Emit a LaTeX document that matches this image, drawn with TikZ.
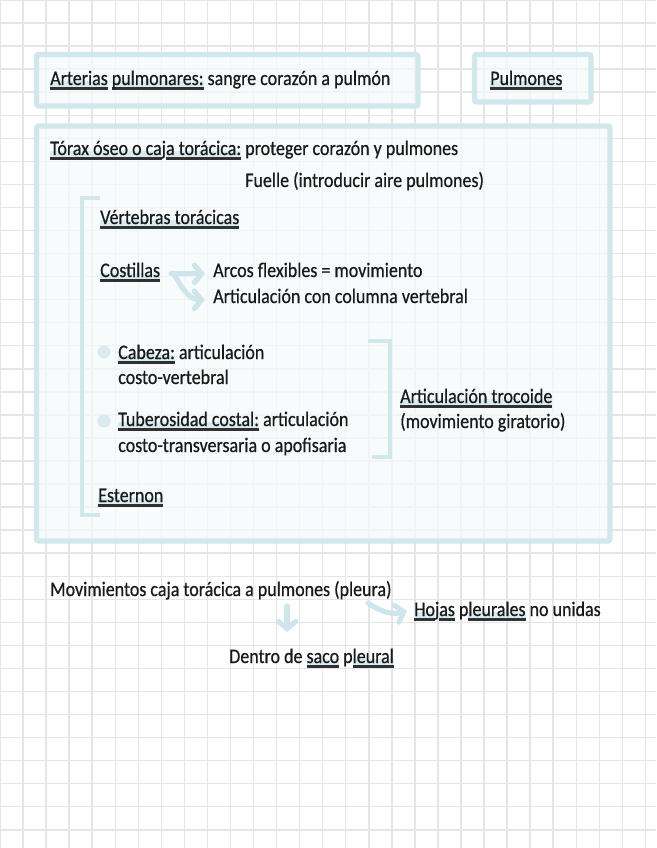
\documentclass[tikz,border=0pt]{standalone}
\usepackage{fontspec}
\setmainfont[FakeStretch=0.87,FakeBold=0.6]{Carlito}
\usetikzlibrary{arrows.meta}
\definecolor{ink}{HTML}{1A1A1A}
\definecolor{gridc}{HTML}{E3E6E6}
\definecolor{boxc}{HTML}{D0E7EC}
\definecolor{boxf}{HTML}{F5FAFC}
\definecolor{hlc}{HTML}{D8EBF0}
\definecolor{arrc}{HTML}{CDE5EB}
\newsavebox\ulbox
\newcommand\ulw[1]{\sbox\ulbox{#1}\leavevmode\rlap{\textcolor{hlc}{\rule[-1.5pt]{\wd\ulbox}{4.5pt}}}\rlap{\textcolor{ink!90}{\rule[-3.4pt]{\wd\ulbox}{2.1pt}}}\usebox\ulbox}
\begin{document}
\begin{tikzpicture}[x=0.75pt,y=-0.75pt,
  txt/.style={anchor=base west, inner sep=0pt, text=ink, font=\fontsize{15.5}{18}\selectfont},
  boxs/.style={draw=boxc, line width=3.8pt, fill=boxf, fill opacity=0.75, rounded corners=1.5pt},
  brk/.style={draw=boxc, line width=3.2pt},
  arr/.style={draw=arrc, line width=3.8pt, line cap=round, line join=round, -{Straight Barb[length=5.5pt,width=13pt,line cap=round]}}]
\fill[white] (0,0) rectangle (656,848);
\useasboundingbox (0,0) rectangle (656,848);
\foreach \i in {0,...,28} \draw[gridc, line width=1.1pt] (\i*23.05,0) -- (\i*23.05,848);
\foreach \j in {0,...,36} \draw[gridc, line width=1.1pt] (0,\j*23.05) -- (656,\j*23.05);
% boxes
\path[boxs] (36.5,54.5) rectangle (418,106);
\path[boxs] (474.5,54.5) rectangle (591,102);
\path[boxs] (36.5,126) rectangle (610,541);
% brackets
\draw[brk] (100,198) -- (82,198) -- (82,515) -- (100,515);
\draw[brk] (368,341) -- (390,341) -- (390,457) -- (372,457);
% bullets
\fill[hlc] (104,352) circle (6.5);
\fill[hlc] (104,421) circle (6.5);
% texts
\node[txt] (art) at (50,85) {\ulw{Arterias} \ulw{pulmonares:} sangre corazón a pulmón};
\node[txt] (pul) at (490,85) {\ulw{Pulmones}};
\node[txt] (torax) at (50,155) {\ulw{Tórax óseo o ca}j\ulw{a torácica:} proteger corazón y pulmones};
\node[txt] (fuelle) at (245,187) {Fuelle (introducir aire pulmones)};
\node[txt] (vert) at (100,224) {\ulw{Vértebras torácicas}};
\node[txt] (cost) at (100,277) {\ulw{Costillas}};
\node[txt] (arcos) at (213,277) {Arcos flexibles = movimiento};
\node[txt] (colum) at (213,303) {Articulación con columna vertebral};
\node[txt] (cab) at (118,359) {\ulw{Cabeza:} articulación};
\node[txt] (cv) at (118,384) {costo-vertebral};
\node[txt] (tub) at (118,426) {\ulw{Tuberosidad costal:} articulación};
\node[txt] (ct) at (118,452) {costo-transversaria o apofisaria};
\node[txt] (troc) at (400,403) {\ulw{Articulación trocoide}};
\node[txt] (gir) at (400,428) {(movimiento giratorio)};
\node[txt] (est) at (98,502) {\ulw{Esternon}};
\node[txt] (mov) at (50,596) {Movimientos caja torácica a pulmones (pleura)};
\node[txt] (hojas) at (414,616) {\ulw{Ho}j\ulw{as} p\ulw{leurales} no unidas};
\node[txt] (dentro) at (229,663) {Dentro de \ulw{saco} p\ulw{leural}};
% arrows
\draw[arr] ([xshift=8pt]cost.mid east) -- ([xshift=-6pt]arcos.mid west);
\draw[arr] ([xshift=10pt]cost.mid east) to[out=-60,in=180] ([xshift=-6pt]colum.mid west);
\coordinate (d1) at (287,606);
\coordinate (d2) at (287,632);
\draw[arr] (d1) -- (d2);
\coordinate (c1) at (368,603);
\coordinate (c2) at (407,611);
\draw[arr] (c1) to[out=-35,in=195] (c2);
\end{tikzpicture}
\end{document}
